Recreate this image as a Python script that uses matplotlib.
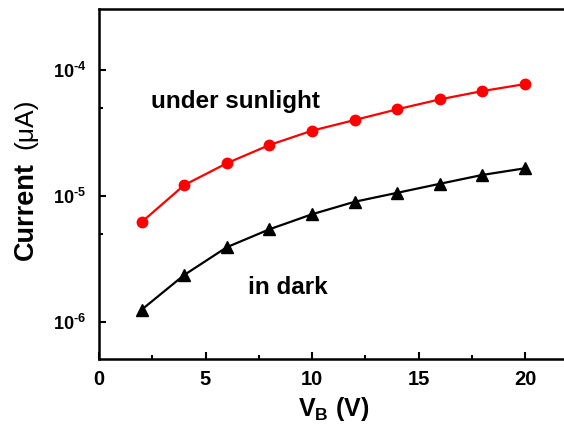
#!/usr/bin/env python3
import math
import matplotlib
matplotlib.use("Agg")
import matplotlib.pyplot as plt
from matplotlib.ticker import FixedLocator, FuncFormatter, MultipleLocator

# bias voltage (V) and currents
v_bias = [2, 4, 6, 8, 10, 12, 14, 16, 18, 20]
i_sun = [6.2e-6, 1.22e-5, 1.82e-5, 2.54e-5, 3.30e-5, 4.01e-5, 4.88e-5, 5.85e-5, 6.81e-5, 7.74e-5]
i_dark = [1.25e-6, 2.36e-6, 3.92e-6, 5.44e-6, 7.16e-6, 9.0e-6, 1.06e-5, 1.25e-5, 1.47e-5, 1.66e-5]
x_ticks = [0, 5, 10, 15, 20]
y_ticks = [1e-6, 1e-5, 1e-4]

plt.rcParams['font.family'] = ['Liberation Sans', 'DejaVu Sans']
plt.rcParams['font.weight'] = 'bold'
plt.rcParams['mathtext.fontset'] = 'custom'
plt.rcParams['mathtext.rm'] = 'Liberation Sans:bold'
plt.rcParams['mathtext.bf'] = 'Liberation Sans:bold'
plt.rcParams['mathtext.it'] = 'Liberation Sans:bold'

fig = plt.figure(figsize=(5.64, 4.32), dpi=100)
ax = fig.add_axes([0.1755, 0.169, 0.831, 0.810])

ax.plot(v_bias, i_sun, color='#ff0000', lw=1.6, marker='o', ms=7.5)
ax.plot(v_bias, i_dark, color='black', lw=1.6, marker='^', ms=8.5)

ax.set_yscale('log')
ax.set_xlim(0, 22)
ax.set_ylim(10**-6.294, 10**-3.516)

ax.xaxis.set_major_locator(FixedLocator(x_ticks))
ax.xaxis.set_minor_locator(MultipleLocator(2.5))
ax.yaxis.set_major_locator(FixedLocator(y_ticks))
ax.yaxis.set_minor_locator(FixedLocator([5e-7, 5e-6, 5e-5, 5e-4]))
ax.yaxis.set_major_formatter(FuncFormatter(
    lambda v, p: '$\\mathbf{10^{\u2010%d}}$' % abs(round(math.log10(v)))))
ax.yaxis.set_minor_formatter(FuncFormatter(lambda v, p: ''))

ax.tick_params(which='both', direction='in', width=1.5, labelsize=14.5)
ax.tick_params(which='major', length=5)
ax.tick_params(which='minor', length=3)
ax.tick_params(axis='x', pad=8)
ax.tick_params(axis='y', pad=9, labelsize=13)
for s in ax.spines.values():
    s.set_linewidth(1.8)

ax.text(2.45, 10**-4.25, 'under sunlight', fontsize=17.5, fontweight='bold', va='center')
ax.text(7.0, 10**-5.73, 'in dark', fontsize=17.5, fontweight='bold', va='center')

ax.set_xlabel(r'V$_\mathbf{B}$ (V)', fontsize=18, fontweight='bold', labelpad=4)

# y label: bold word plus a thin unit
fig.text(26 / 564, 1 - 211.5 / 432, 'Current', rotation=90, fontsize=19.5,
         fontweight='bold', ha='center', va='center')
fig.text(25 / 564, 1 - 123.5 / 432, '(μA)', rotation=90, fontsize=19,
         fontweight='normal', ha='center', va='center')

fig.savefig('out.png', dpi=100)
